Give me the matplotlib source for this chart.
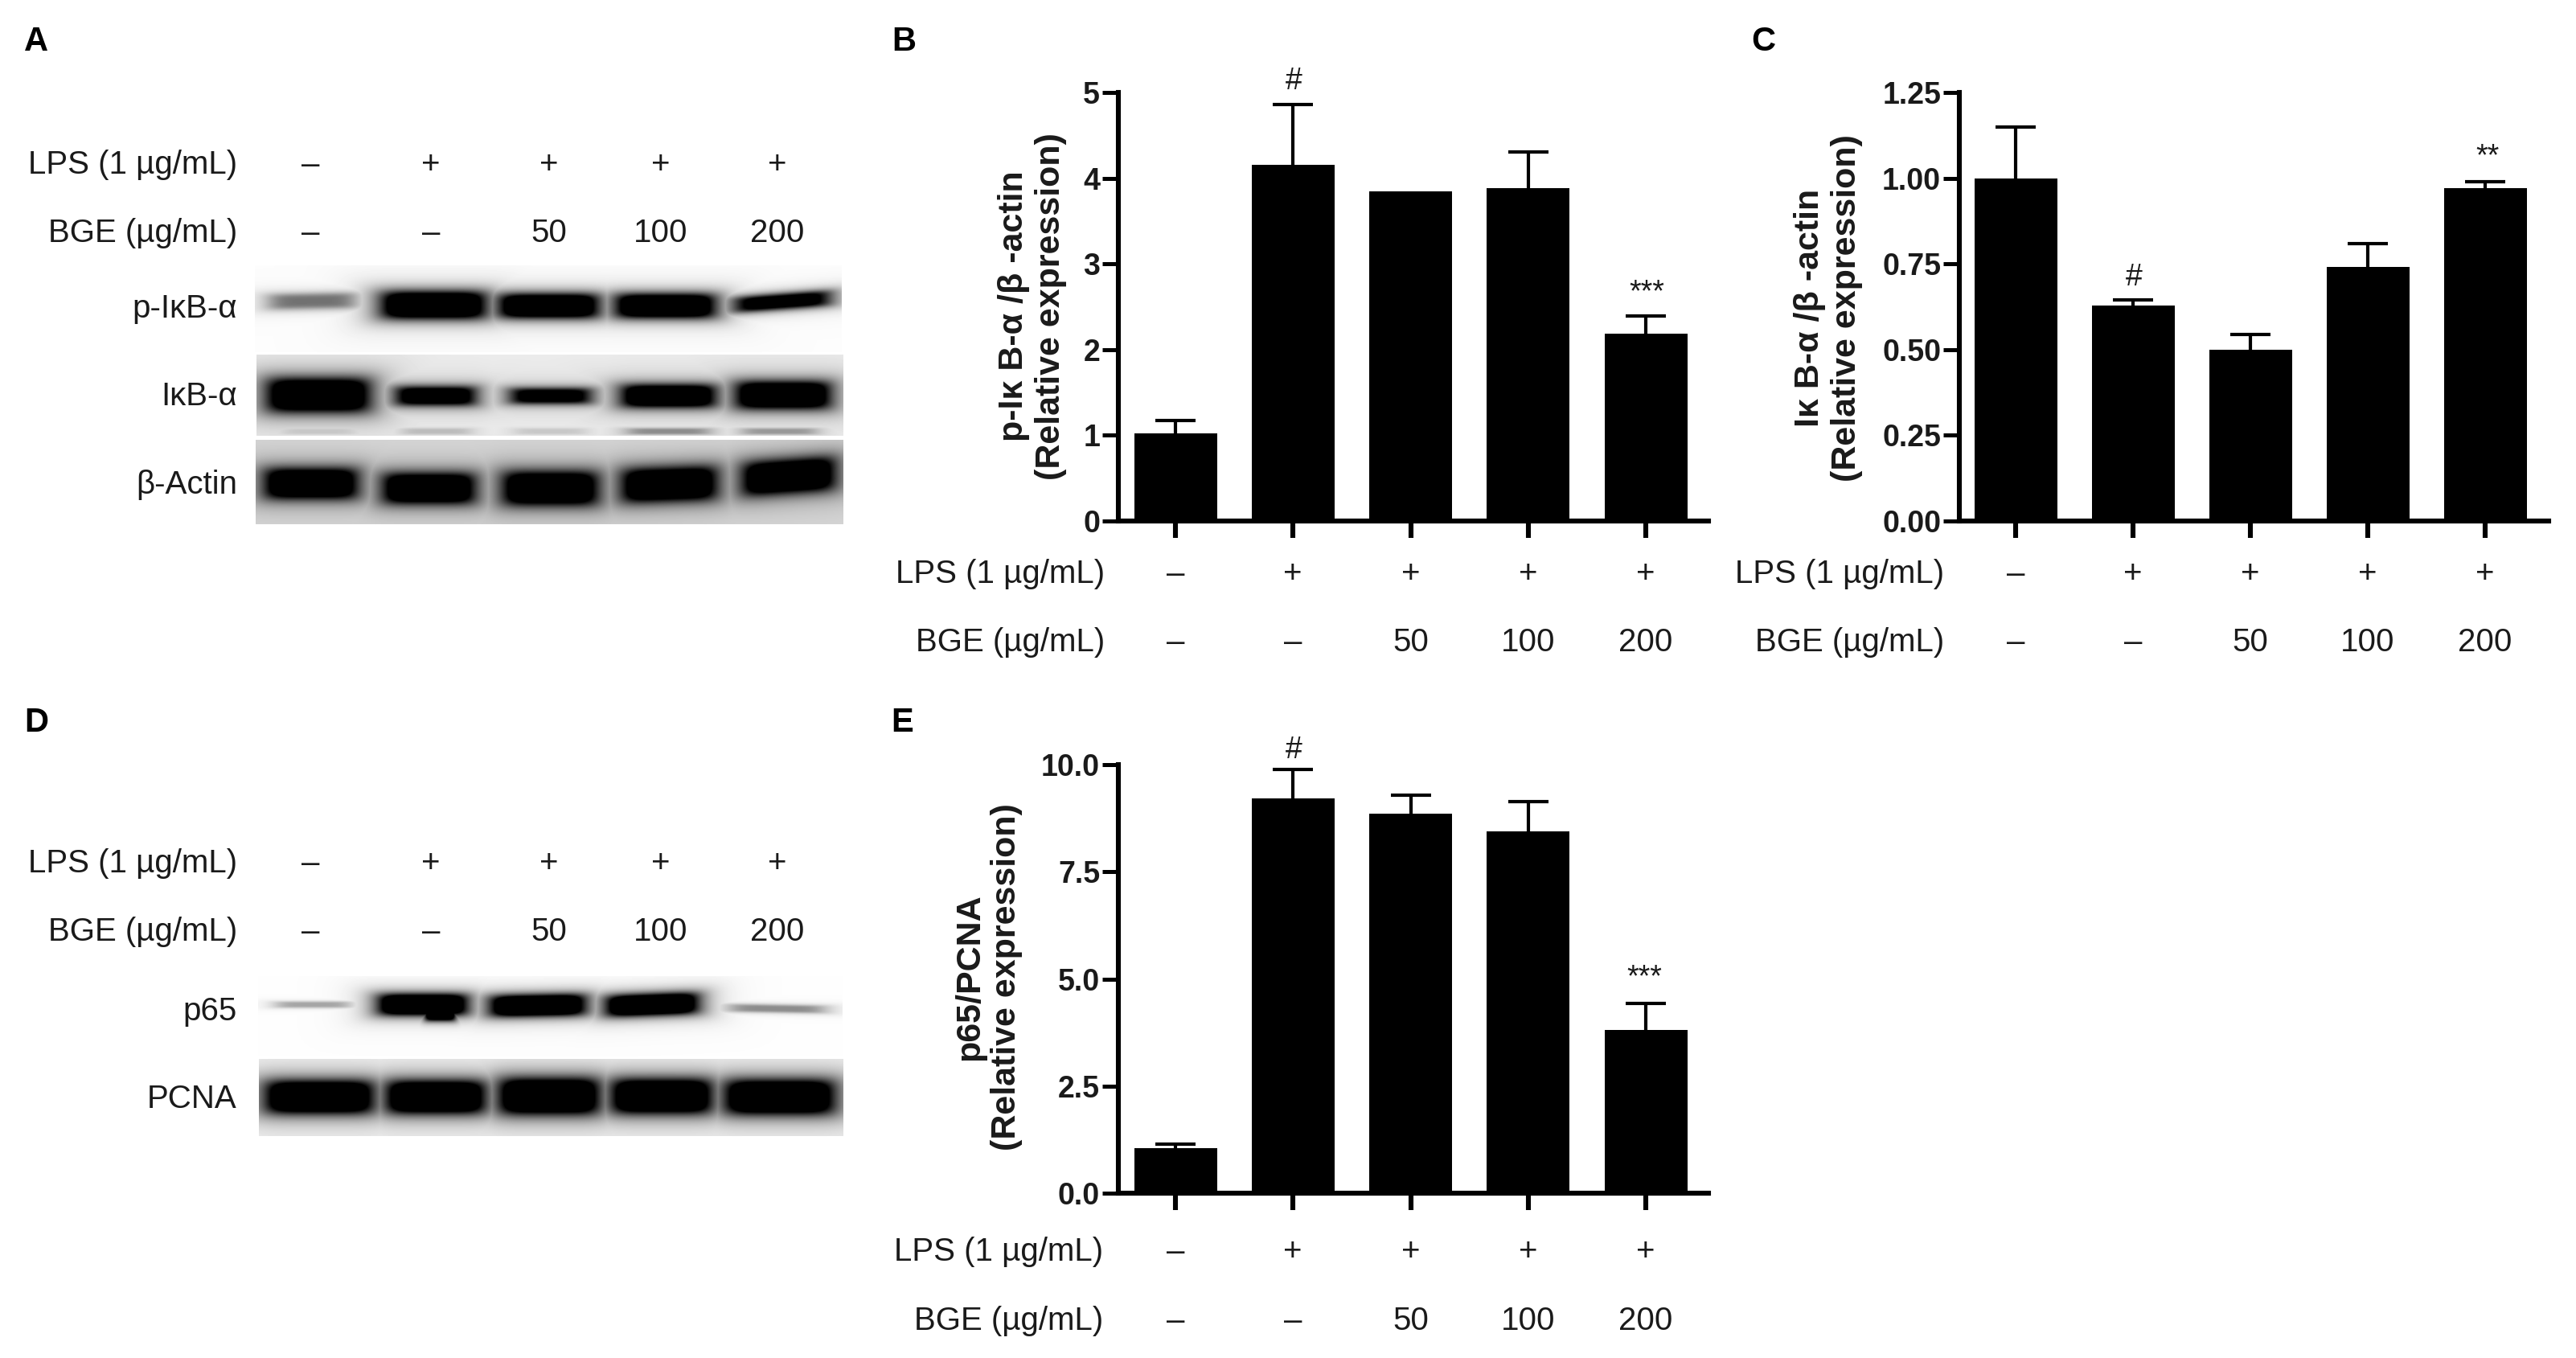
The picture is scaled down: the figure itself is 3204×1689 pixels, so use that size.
#!/usr/bin/env python3
# -*- coding: utf-8 -*-
"""Western blots (A, D) and densitometry bars (B, C, E) for LPS / BGE treatment"""

import numpy as np
import matplotlib
matplotlib.use('Agg')
import matplotlib.pyplot as plt
from matplotlib.transforms import blended_transform_factory

plt.rcParams['font.family'] = ['Liberation Sans', 'DejaVu Sans']

W, H = 3204, 1689

# row labels under each panel
lps_row = ['–', '+', '+', '+', '+']
bge_row = ['–', '–', '50', '100', '200']

# bar values, upper error bars
b_values = [1.02, 4.16, 3.85, 3.88, 2.19]
b_upper = [1.17, 4.86, np.nan, 4.31, 2.39]
c_values = [1.00, 0.628, 0.50, 0.74, 0.97]
c_upper = [1.15, 0.645, 0.545, 0.81, 0.99]
e_values = [1.05, 9.22, 8.85, 8.44, 3.81]
e_upper = [1.15, 9.88, 9.29, 9.14, 4.42]

b_ticks = [0, 1, 2, 3, 4, 5]
c_ticks = [0, 0.25, 0.5, 0.75, 1.0, 1.25]
e_ticks = [0, 2.5, 5, 7.5, 10]

# blot bands, full-size pixels: x0, x1, y at x0, y at x1, half height, strength
p_ikb_bands = [(332, 444, 375, 373, 10, 0.55), (474, 604, 379, 379, 17, 1.5), (620, 744, 380, 380, 15, 1.5),
               (765, 889, 380, 380, 15, 1.5), (911, 1034, 379, 370, 10, 1.2)]
ikb_bands = [(332, 459, 491, 491, 21, 1.5), (491, 592, 492, 492, 12, 1.3), (633, 736, 492, 492, 10, 1.2),
             (773, 889, 492, 492, 14, 1.5), (915, 1032, 491, 491, 17, 1.5),
             (348, 444, 536, 536, 4, 0.15), (498, 587, 536, 536, 4, 0.2), (638, 730, 536, 536, 4, 0.15),
             (778, 884, 536, 536, 4, 0.4), (921, 1017, 536, 536, 4, 0.35)]
actin_bands = [(329, 444, 601, 601, 19, 1.5), (476, 590, 607, 607, 19, 1.5), (625, 743, 607, 607, 21, 1.5),
               (773, 891, 604, 600, 21, 1.5), (923, 1038, 596, 588, 21, 1.5)]
p65_bands = [(341, 437, 1249, 1249, 4, 0.35), (471, 580, 1249, 1249, 13, 1.6), (528, 566, 1260, 1260, 9, 1.5),
             (610, 727, 1251, 1249, 13, 1.6), (754, 867, 1251, 1247, 13, 1.6), (904, 1027, 1253, 1255, 5, 0.45)]
pcna_bands = [(331, 463, 1364, 1364, 20, 1.6), (481, 602, 1364, 1364, 20, 1.6), (621, 744, 1363, 1363, 22, 1.6),
              (761, 884, 1363, 1363, 21, 1.6), (902, 1036, 1364, 1364, 21, 1.6)]

fig = plt.figure(figsize=(W / 100, H / 100), dpi=100, facecolor='white')


def px_text(x, y, s, **kw):
    kw.setdefault('va', 'center')
    kw.setdefault('color', '#1a1a1a')
    fig.text(x / W, 1 - y / H, s, **kw)


def draw_blot(x0, x1, y0, y1, background, bands, glow=0.0):
    """Soft rounded bands on a grey strip"""
    xx, yy = np.meshgrid(np.arange(x0, x1), np.arange(y0, y1))
    signal = np.zeros(xx.shape)
    halo = np.zeros(xx.shape)
    for bx0, bx1, by0, by1, half, strength in bands:
        xc = (bx0 + bx1) / 2
        hw = (bx1 - bx0) / 2
        yc = by0 + (by1 - by0) * (xx - bx0) / (bx1 - bx0)
        d = (np.abs(xx - xc) / hw) ** 6 + (np.abs(yy - yc) / half) ** 4
        signal = np.maximum(signal, strength / (1 + d))
        d2 = (np.abs(xx - xc) / (hw + 8)) ** 6 + (np.abs(yy - yc) / (half + 14)) ** 2
        halo = np.maximum(halo, glow * min(strength, 1) / (1 + d2))
    img = background * (1 - np.clip(signal, 0, 1)) * (1 - halo)
    ax = fig.add_axes([x0 / W, 1 - y1 / H, (x1 - x0) / W, (y1 - y0) / H])
    ax.imshow(img, cmap='gray', vmin=0, vmax=1, aspect='auto', interpolation='bilinear')
    ax.axis('off')


def draw_bars(left, right, top, bottom, centers, values, upper, ticks, ymax, fmt, ylabel, ylabel_x, ylabel_y, lps_y, bge_y, label_right):
    ax = fig.add_axes([left / W, 1 - bottom / H, (right - left) / W, (bottom - top) / H])
    ax.patch.set_alpha(0)
    step = (centers[-1] - centers[0]) / 4
    pos = np.arange(5)
    ax.bar(pos, values, width=103 / step, color='black', zorder=3)
    lower = np.zeros(5)
    err_up = np.array(upper) - np.array(values)
    eb = ax.errorbar(pos, values, yerr=[lower, err_up], fmt='none', ecolor='black',
                     elinewidth=3, capsize=18, capthick=3, zorder=2, clip_on=False)
    eb[1][0].set_visible(False)  # только верхняя планка

    ax.set_xlim((left - centers[0]) / step, (right - centers[0]) / step)
    ax.set_ylim(0, ymax)
    ax.spines['top'].set_visible(False)
    ax.spines['right'].set_visible(False)
    ax.spines['left'].set_linewidth(4.4)
    ax.spines['bottom'].set_linewidth(4.4)
    ax.set_xticks(pos)
    ax.set_xticklabels([])
    ax.set_yticks(ticks)
    ax.set_yticklabels([fmt % t for t in ticks], fontsize=27, fontweight='bold', color='#1a1a1a')
    ax.tick_params(axis='x', length=15, width=4.4)
    ax.tick_params(axis='y', length=14.5, width=3.6, pad=2)
    ax.set_ylabel(ylabel, fontsize=31, fontweight='bold', color='#1a1a1a', va='center', ha='center')
    ax.yaxis.set_label_coords(ylabel_x / W, 1 - ylabel_y / H, transform=fig.transFigure)

    row_labels(ax, lps_y, bge_y, label_right)
    return ax


def row_labels(ax, lps_y, bge_y, label_right):
    trans = blended_transform_factory(ax.transData, fig.transFigure)
    for i in range(5):
        ax.text(i, 1 - (lps_y + 3) / H, lps_row[i], transform=trans, ha='center', va='center', fontsize=29, color='#1a1a1a')
        ax.text(i, 1 - (bge_y + 3) / H, bge_row[i], transform=trans, ha='center', va='center', fontsize=29, color='#1a1a1a')
    px_text(label_right, lps_y + 3, 'LPS (1 µg/mL)', ha='right', fontsize=29)
    px_text(label_right, bge_y + 3, 'BGE (µg/mL)', ha='right', fontsize=29)


def blot_rows(columns, lps_y, bge_y):
    for x, a, b in zip(columns, lps_row, bge_row):
        px_text(x, lps_y + 3, a, ha='center', fontsize=29)
        px_text(x, bge_y + 3, b, ha='center', fontsize=29)
    px_text(295, lps_y + 3, 'LPS (1 µg/mL)', ha='right', fontsize=29)
    px_text(295, bge_y + 3, 'BGE (µg/mL)', ha='right', fontsize=29)


# Панель A
blot_columns = [386, 536, 683, 822, 967]
blot_rows(blot_columns, 202, 287)
draw_blot(317, 1047, 330, 438, 0.99, p_ikb_bands)
draw_blot(319, 1049, 441, 542, 0.93, ikb_bands, glow=0.04)
draw_blot(318, 1049, 547, 652, 0.85, actin_bands, glow=0.05)
px_text(295, 384, 'p-IκB-α', ha='right', fontsize=29)
px_text(295, 493, 'IκB-α', ha='right', fontsize=29)
px_text(295, 603, 'β-Actin', ha='right', fontsize=29)

# Панель D
blot_rows(blot_columns, 1071, 1156)
draw_blot(321, 1048, 1214, 1314, 0.995, p65_bands)
draw_blot(322, 1049, 1317, 1413, 0.97, pcna_bands, glow=0.1)
px_text(295, 1258, 'p65', ha='right', fontsize=29)
px_text(295, 1367, 'PCNA', ha='right', fontsize=29)

# Панели B, C, E
bar_centers_b = [1462, 1608, 1754, 1900, 2047]
bar_centers_c = [2507, 2653, 2798, 2945, 3091]

draw_bars(1391, 2125, 115, 648, bar_centers_b, b_values, b_upper, b_ticks, 5, '%d',
          'p-Iκ B-α /β -actin\n(Relative expression)', 1284, 381, 711, 796, 1374)
draw_bars(2437, 3170, 115, 648, bar_centers_c, c_values, c_upper, c_ticks, 1.25, '%.2f',
          'Iκ B-α /β -actin\n(Relative expression)', 2274, 383, 711, 796, 2418)
draw_bars(1391, 2125, 951, 1484, bar_centers_b, e_values, e_upper, e_ticks, 10, '%.1f',
          'p65/PCNA\n(Relative expression)', 1229, 1215, 1554, 1640, 1372)

# значимость
px_text(1609, 101, '#', ha='center', fontsize=27)
px_text(2048, 364, '***', ha='center', fontsize=27)
px_text(2654, 345, '#', ha='center', fontsize=27)
px_text(3094, 195, '**', ha='center', fontsize=27)
px_text(1609, 933, '#', ha='center', fontsize=27)
px_text(2045, 1216, '***', ha='center', fontsize=27)

# буквы панелей
for letter, x, y in [('A', 45, 52), ('B', 1124, 52), ('C', 2193, 52), ('D', 45, 899), ('E', 1122, 899)]:
    px_text(x, y, letter, ha='center', fontsize=30, fontweight='bold', color='black')

fig.savefig('out.png', dpi=100)
